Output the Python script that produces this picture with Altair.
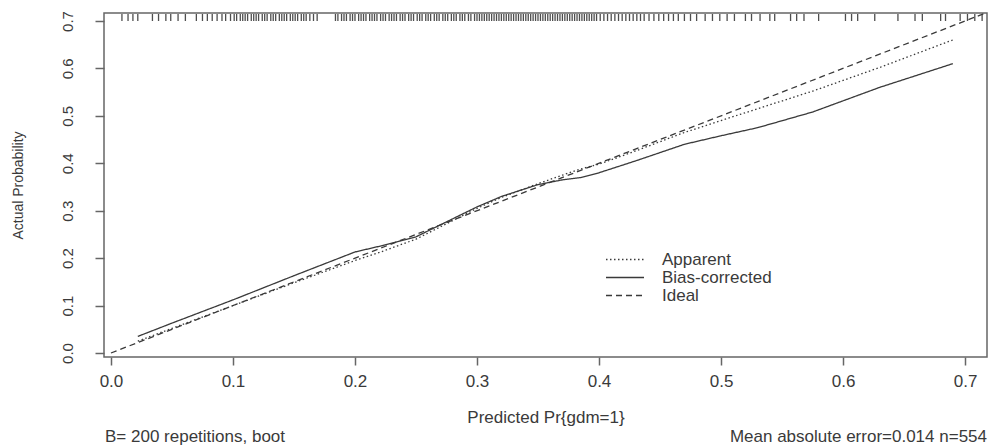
import altair as alt
import pandas as pd

# ---- data ----
pred_x = [0.022, 0.05, 0.1, 0.15, 0.2, 0.22, 0.25, 0.3, 0.32, 0.35, 0.37, 0.385,
          0.4, 0.43, 0.47, 0.5, 0.53, 0.575, 0.63, 0.69]
bias_corrected = [0.035, 0.063, 0.112, 0.163, 0.213, 0.225, 0.245, 0.308, 0.33, 0.355,
                  0.365, 0.37, 0.38, 0.405, 0.44, 0.458, 0.475, 0.508, 0.56, 0.61]
apparent = [0.025, 0.052, 0.1, 0.148, 0.195, 0.212, 0.24, 0.305, 0.328, 0.357,
            0.375, 0.388, 0.398, 0.426, 0.465, 0.49, 0.515, 0.552, 0.602, 0.66]
ideal_x = [0.0, 0.716]
ideal_y = [0.0, 0.716]

# predicted probabilities shown as rug at the top (thousandths)
rug_values = [9, 14, 18, 22, 34, 39, 45, 49, 55, 61, 70, 75, 79, 83, 87, 91, 94, 98,
              101, 103, 106, 108, 110, 112, 115, 117, 119, 121, 124, 126, 128, 131, 133,
              135, 138, 140, 142, 144, 147, 149, 151, 153, 156, 158, 160, 163, 166, 169,
              184, 186, 189, 191, 193, 196, 198, 200, 203, 205, 207, 209, 212, 214, 216,
              218, 221, 223, 225, 228, 230, 232, 234, 237, 239, 241, 244, 246, 248, 251,
              253, 255, 258, 260, 262, 265, 267, 269, 272, 274, 276, 279, 281, 283, 286,
              288, 290, 293, 295, 298, 300, 302, 304, 306, 308, 310, 312, 314, 316, 318,
              320, 322, 324, 326, 328, 330, 332, 334, 336, 338, 340, 342, 344, 346, 348,
              350, 352, 354, 356, 358, 360, 362, 364, 366, 368, 370, 372, 374, 376, 378,
              380, 382, 384, 386, 388, 390, 392, 394, 396, 398, 401, 404, 407, 410, 413,
              416, 419, 422, 425, 428, 431, 434, 437, 441, 445, 449, 453, 457, 461, 465,
              470, 475, 480, 487, 493, 499, 505, 511, 520, 525, 532, 540, 544, 557, 562,
              568, 580, 602, 607, 612, 626, 645, 659, 665, 680, 684, 696, 702, 708, 714]

series_names = ["Apparent", "Bias-corrected", "Ideal"]
x_ticks = [0.0, 0.1, 0.2, 0.3, 0.4, 0.5, 0.6, 0.7]
y_ticks = [0.0, 0.1, 0.2, 0.3, 0.4, 0.5, 0.6, 0.7]
x_title = "Predicted Pr{gdm=1}"
y_title = "Actual Probability"
foot_left = ["B= 200 repetitions, boot"]
foot_right = ["Mean absolute error=0.014 n=554"]

# ---- tables ----
rows = []
for xv, yv in zip(pred_x, apparent):
    rows.append({"series": series_names[0], "x": xv, "y": yv, "order": xv})
for xv, yv in zip(pred_x, bias_corrected):
    rows.append({"series": series_names[1], "x": xv, "y": yv, "order": xv})
for xv, yv in zip(ideal_x, ideal_y):
    rows.append({"series": series_names[2], "x": xv, "y": yv, "order": xv})
lines_df = pd.DataFrame(rows)
rug_df = pd.DataFrame({"x": [v / 1000 for v in rug_values]})

FONT = "Liberation Sans"
INK = "#3a3a3a"
W, H = 883, 344

xscale = alt.Scale(domain=[-0.0057, 0.718], nice=False, zero=False)
yscale = alt.Scale(domain=[-0.0084, 0.7168], nice=False, zero=False)

lines = alt.Chart(lines_df).mark_line(
    color=INK, strokeWidth=1.3, clip=True
).encode(
    x=alt.X("x:Q", scale=xscale,
            axis=alt.Axis(values=x_ticks, format=".1f", title=x_title,
                          labelFontSize=17, titleFontSize=17, labelFont=FONT,
                          titleFont=FONT, titleFontWeight="normal",
                          labelColor=INK, titleColor=INK, grid=False, domain=False,
                          tickSize=8, tickWidth=1.5, tickColor="#666",
                          labelPadding=8, titleY=60, titleBaseline="middle")),
    y=alt.Y("y:Q", scale=yscale,
            axis=alt.Axis(values=y_ticks, format=".1f", title=y_title,
                          labelFontSize=15, titleFontSize=14, labelFont=FONT,
                          titleFont=FONT, titleFontWeight="normal",
                          labelColor=INK, titleColor=INK, grid=False, domain=False,
                          tickSize=9, tickWidth=1.5, tickColor="#666",
                          labelAngle=270, labelAlign="center", labelBaseline="bottom",
                          labelPadding=20, titleAngle=270, titleX=-86, titleY=172,
                          titleAlign="center", titleBaseline="middle")),
    strokeDash=alt.StrokeDash(
        "series:N",
        scale=alt.Scale(domain=series_names, range=[[1.5, 2.5], [1, 0], [6, 4]]),
        legend=alt.Legend(title=None, orient="none", legendX=501, legendY=238,
                          symbolType="stroke", symbolSize=1444,
                          symbolStrokeWidth=1.3, symbolStrokeColor=INK,
                          labelFont=FONT, labelFontSize=17, labelColor=INK,
                          labelOffset=17, rowPadding=0, padding=0,
                          clipHeight=17)),
    order="order:Q",
)

rug = alt.Chart(rug_df).mark_rule(color="#222", strokeWidth=1.3, opacity=0.8).encode(
    x=alt.X("x:Q", scale=xscale),
    y=alt.value(1),
    y2=alt.value(8),
)

left_text = alt.Chart(pd.DataFrame({"t": foot_left})).mark_text(
    font=FONT, fontSize=17, color=INK, align="left", baseline="middle"
).encode(text="t:N", x=alt.value(1), y=alt.value(424))

right_text = alt.Chart(pd.DataFrame({"t": foot_right})).mark_text(
    font=FONT, fontSize=17, color=INK, align="right", baseline="middle"
).encode(text="t:N", x=alt.value(W), y=alt.value(424))

chart = alt.layer(rug, lines, left_text, right_text).properties(
    width=W, height=H,
    autosize=alt.AutoSizeParams(type="none"),
    padding={"left": 104, "top": 13, "right": 2, "bottom": 88},
    background="white",
).configure_view(stroke="#666", strokeWidth=1.5)

chart.save("out.html", embed_options={"renderer": "svg", "actions": False})
